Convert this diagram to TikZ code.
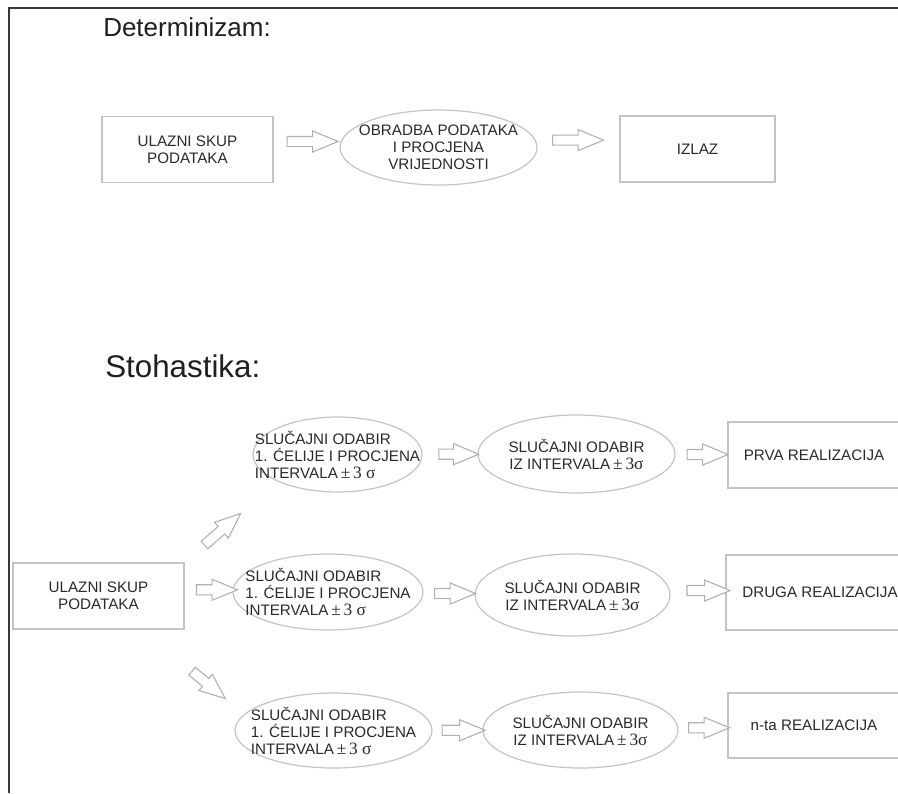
\documentclass[tikz,border=0pt]{standalone}
\usepackage{fontspec}
\setmainfont{Liberation Sans}
\newfontfamily\rmf{Liberation Serif}
\usetikzlibrary{shapes.geometric,shapes.arrows}
\definecolor{edgegray}{HTML}{C4C4C4}
\definecolor{arrgray}{HTML}{B0B0B0}
\definecolor{txtgray}{HTML}{2A2A2A}
\definecolor{frmgray}{HTML}{383838}
\def\u{0.75pt}
\newcommand\sigsp{{\rmf\fontsize{13}{12.75}\selectfont\,±\,3 σ}}
\newcommand\signs{{\rmf\fontsize{13}{12.75}\selectfont\,±\,3σ}}
\tikzset{
  txtst/.style={text=txtgray, font=\fontsize{11.4}{12.75}\selectfont},
  rbox/.style={txtst, rectangle, draw=edgegray, line width=0.9pt, align=center, inner sep=0pt},
  ellnode/.style={txtst, ellipse, draw=edgegray, line width=0.9pt, align=center, inner xsep=-80pt, inner ysep=-40pt},
  barrow/.style={single arrow, draw=arrgray, line width=0.8pt, fill=white, inner xsep=0pt, inner ysep=4.5*\u,
     minimum width=21*\u, single arrow head extend=5.5*\u, single arrow tip angle=45, minimum height=#1},
  ttl/.style={anchor=base west, inner sep=0pt, text=black!88}
}
\begin{document}
\begin{tikzpicture}[x=0.75pt, y=-0.75pt]
\useasboundingbox (0,0) rectangle (898,793);
\clip (0,0) rectangle (898,793);
\fill[white] (0,0) rectangle (898,793);
% frame
\draw[frmgray, line width=1.5pt] (898,8) -- (9,8) -- (9,793);

% titles
\node[ttl, font=\fontsize{19.5}{22}\selectfont] (tdet) at (103,36) {Determinizam:};
\node[ttl, font=\fontsize{23.5}{26}\selectfont] (tsto) at (105,377) {Stohastika:};

% determinism row
\node[rbox, minimum width=171*\u, minimum height=66*\u] (in1) at (187.5,149.5) {ULAZNI SKUP\\PODATAKA};
\node[ellnode, minimum width=197*\u, minimum height=75*\u] (ob) at (438.5,147.5) {OBRADBA PODATAKA\\I PROCJENA\\VRIJEDNOSTI};
\node[rbox, minimum width=155*\u, minimum height=66*\u] (izl) at (697.5,149) {IZLAZ};
\path (in1.east) -- node[barrow=51*\u, yshift=7*\u] (ar1) {} (ob.west);
\path (ob.east) -- node[barrow=51*\u, pos=0.42, yshift=8*\u] (ar2) {} (izl.west);

% stochastic part
\node[rbox, minimum width=171*\u, minimum height=66*\u] (in2) at (98.5,596) {ULAZNI SKUP\\PODATAKA};

% row 1
\node[ellnode, align=left, minimum width=169*\u, minimum height=75*\u] (a1) at (337.5,454.5) {SLUČAJNI ODABIR\\1. ĆELIJE I PROCJENA\\INTERVALA\sigsp};
\node[ellnode, minimum width=197*\u, minimum height=78*\u] (a2) at (576.5,454) {SLUČAJNI ODABIR\\IZ INTERVALA\signs};
\node[rbox, minimum width=172*\u, minimum height=66*\u] (a3) at (814,455) {PRVA REALIZACIJA};
\path (a1.east) -- node[barrow=40*\u, pos=0.55] (ar3) {} (a2.west);
\path (a2.east) -- node[barrow=41*\u] (ar4) {} (a3.west);

% row 2
\node[ellnode, align=left, minimum width=190*\u, minimum height=76*\u] (b1) at (328,592) {SLUČAJNI ODABIR\\1. ĆELIJE I PROCJENA\\INTERVALA\sigsp};
\node[ellnode, minimum width=195*\u, minimum height=82*\u] (b2) at (572.5,595) {SLUČAJNI ODABIR\\IZ INTERVALA\signs};
\node[rbox, minimum width=188*\u, minimum height=75*\u] (b3) at (820,592.5) {DRUGA REALIZACIJA};
\path (in2.east) -- node[barrow=41*\u, pos=0.55, yshift=4*\u] (ar5) {} (b1.west);
\path (b1.east) -- node[barrow=41*\u] (ar6) {} (b2.west);
\path (b2.east) -- node[barrow=43*\u, pos=0.58, yshift=3*\u] (ar7) {} (b3.west);

% row 3
\node[ellnode, align=left, minimum width=197*\u, minimum height=75*\u] (c1) at (333.5,730.5) {SLUČAJNI ODABIR\\1. ĆELIJE I PROCJENA\\INTERVALA\sigsp};
\node[ellnode, minimum width=195*\u, minimum height=76*\u] (c2) at (580.5,730) {SLUČAJNI ODABIR\\IZ INTERVALA\signs};
\node[rbox, minimum width=172*\u, minimum height=65*\u] (c3) at (814,725.5) {n-ta REALIZACIJA};
\path (c1.east) -- node[barrow=43*\u] (ar8) {} (c2.west);
\path (c2.east) -- node[barrow=41*\u] (ar9) {} (c3.west);

% diagonal arrows
\path (in2.north east) -- node[barrow=48*\u, sloped, pos=0.36] (ar10) {} (a1.south west);
\coordinate (d2a) at (187,667);
\coordinate (d2b) at (221,695);
\path (d2a) -- node[barrow=43*\u, sloped] (ar11) {} (d2b);
\end{tikzpicture}
\end{document}
